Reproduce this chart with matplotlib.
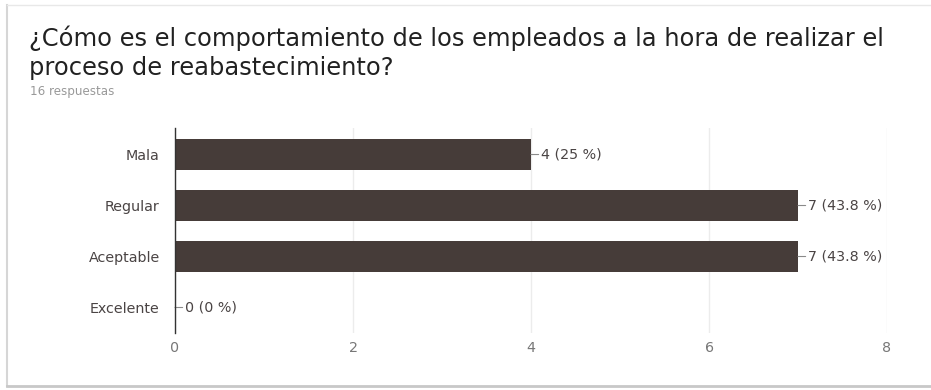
import matplotlib
matplotlib.use("Agg")
import matplotlib.pyplot as plt
from matplotlib.lines import Line2D

categories = ["Mala", "Regular", "Aceptable", "Excelente"]
counts = [4, 7, 7, 0]
percents = ["25 %", "43.8 %", "43.8 %", "0 %"]
xticks = [0, 2, 4, 6, 8]
title_lines = ["¿Cómo es el comportamiento de los empleados a la hora de realizar el",
               "proceso de reabastecimiento?"]
subtitle = "16 respuestas"

plt.rcParams["font.family"] = ["DejaVu Sans"]

fig = plt.figure(figsize=(9.31, 3.90), dpi=100)
fig.patch.set_facecolor("white")

# card border (left, top, bottom)
fig.add_artist(Line2D([7/931, 7/931], [1-5/390, 1-386/390], transform=fig.transFigure, color="#d6d6d6", lw=1.5))
fig.add_artist(Line2D([7/931, 1.0], [1-5/390, 1-5/390], transform=fig.transFigure, color="#e8e8e8", lw=1.0))
fig.add_artist(Line2D([7/931, 1.0], [1-386/390, 1-386/390], transform=fig.transFigure, color="#c8c8c8", lw=2.0))

for i, line in enumerate(title_lines):
    fig.text(29/931, 1-(38+30*i)/390, line, fontsize=17.4, color="#212121", va="center", ha="left")
fig.text(30/931, 1-91/390, subtitle, fontsize=8.6, color="#999999", va="center", ha="left")

ax = fig.add_axes([175/931, 1-333/390, (887-175)/931, (333-128)/390])
ypos = list(range(len(categories)))
ax.barh(ypos, counts, height=0.6, color="#463c39", zorder=3)
ax.set_ylim(3.5, -0.52)
ax.set_xlim(0, 8)
ax.set_xticks(xticks)
ax.set_yticks(ypos)
ax.set_yticklabels(categories)
ax.tick_params(axis="both", length=0, labelsize=10.3)
ax.tick_params(axis="y", pad=11, labelcolor="#4a4444")
ax.tick_params(axis="x", pad=6, labelcolor="#777777")
ax.grid(axis="x", color="#ececec", lw=1, zorder=0)
for s in ["top", "right", "bottom"]:
    ax.spines[s].set_visible(False)
ax.spines["left"].set_color("#333333")
ax.spines["left"].set_linewidth(1.0)
ax.spines["left"].set_zorder(4)

for y, c, p in zip(ypos, counts, percents):
    ax.annotate("%d (%s)" % (c, p), xy=(c, y), xytext=(7.5, 0), textcoords="offset points",
                va="center", ha="left", fontsize=10.3, color="#4a4444",
                arrowprops=dict(arrowstyle="-", color="#8a8a8a", lw=0.8, shrinkA=0, shrinkB=0))

fig.savefig("out.png", dpi=100)
